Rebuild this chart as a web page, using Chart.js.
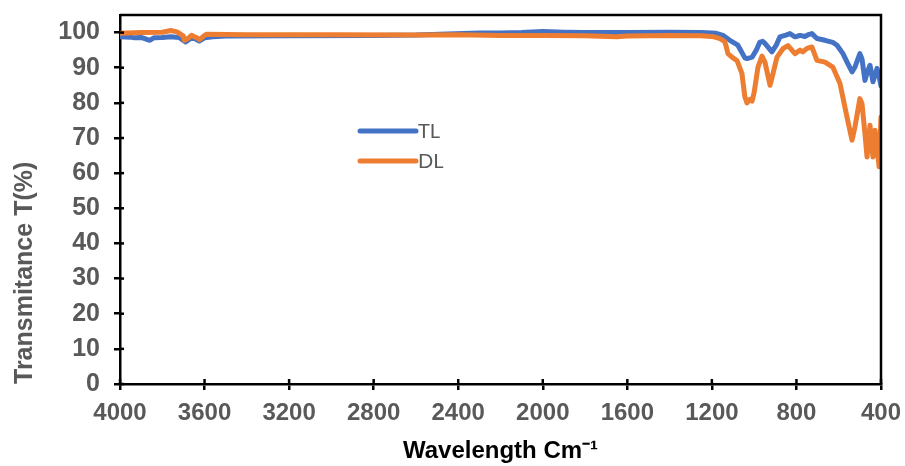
<!DOCTYPE html>
<html>
<head>
<meta charset="utf-8">
<script src="https://cdn.jsdelivr.net/npm/chart.js@4"></script>
<style>
  body { margin: 0; background: #fff; }
  canvas { display: block; }
</style>
</head>
<body>
<canvas id="grafico" width="905" height="466"></canvas>
<script>
// Dados (número de onda em cm-1, transmitância em %)
const tlWave = [4000, 3950, 3930, 3900, 3860, 3840, 3800, 3760, 3720, 3690, 3670, 3650, 3625, 3600, 3560, 3500,
  3200, 2800, 2600, 2450, 2300, 2200, 2100, 2000, 1900, 1800, 1600, 1400, 1250, 1180, 1148, 1115, 1077, 1044,
  1034, 1010, 990, 973, 960, 949, 916, 895, 878, 850, 831, 807, 798, 783, 760, 740, 727, 703, 665, 628, 608,
  580, 560, 537, 523, 500, 490, 476, 466, 452, 438, 419, 409, 400];
const tlT = [98.8, 98.7, 98.5, 98.6, 97.8, 98.5, 98.6, 98.8, 98.6, 97.3, 98.2, 98.4, 97.6, 98.5, 98.8, 99.0,
  99.1, 99.2, 99.3, 99.6, 99.9, 99.9, 100.0, 100.3, 100.1, 100.0, 100.0, 100.1, 100.0, 99.8, 99.2, 97.8, 96.4, 92.8,
  92.6, 93.0, 95.0, 97.3, 97.5, 96.9, 94.5, 96.5, 98.8, 99.3, 99.7, 98.8, 98.9, 99.2, 98.9, 99.5, 99.7, 98.3, 97.8, 97.2, 96.4,
  94.0, 91.5, 88.8, 90.2, 94.0, 92.5, 86.4, 88.5, 90.7, 86.0, 89.8, 87.5, 84.8];

const dlWave = [4000, 3900, 3800, 3760, 3730, 3700, 3695, 3675, 3662, 3640, 3624, 3600, 3590, 3400, 3000, 2600,
  2400, 2200, 2000, 1800, 1650, 1600, 1400, 1250, 1190, 1162, 1140, 1134, 1124, 1105, 1081, 1058, 1044, 1034,
  1020, 1010, 1000, 982, 963, 949, 925, 911, 892, 864, 840, 807, 783, 770, 750, 727, 703, 665, 628, 594, 561,
  537, 523, 500, 490, 476, 466, 452, 438, 428, 409, 400];
const dlT = [99.8, 100.0, 100.1, 100.6, 100.2, 99.0, 97.8, 98.5, 99.2, 98.6, 98.0, 99.2, 99.5, 99.4, 99.4, 99.3,
  99.4, 99.2, 99.2, 99.1, 98.8, 99.0, 99.2, 99.1, 98.8, 98.3, 97.5, 96.4, 94.0, 93.0, 92.0, 88.4, 81.7, 80.0,
  81.0, 80.5, 83.0, 90.2, 93.3, 91.6, 85.0, 88.3, 93.0, 95.4, 96.3, 94.0, 95.0, 94.5, 95.5, 95.9, 92.1, 91.6, 90.2, 85.5, 76.0,
  69.4, 73.2, 81.2, 79.8, 71.3, 64.6, 73.6, 64.6, 72.2, 61.8, 76.0];

const nomes = ['TL', 'DL'];
const cores = ['#4472C4', '#ED7D31'];
const yTicks = [0, 10, 20, 30, 40, 50, 60, 70, 80, 90, 100];

function pontos(xs, ys) {
  return xs.map((x, i) => ({ x: x, y: ys[i] }));
}

// Moldura do gráfico, marcas cruzando os eixos e legenda interna
const molduraPlugin = {
  id: 'moldura',
  afterDraw(chart) {
    const ctx = chart.ctx;
    const a = chart.chartArea;
    ctx.save();
    ctx.strokeStyle = '#000';
    ctx.lineWidth = 2.5;
    ctx.beginPath();
    ctx.moveTo(a.left, a.top);
    ctx.lineTo(a.right, a.top);
    ctx.lineTo(a.right, a.bottom);
    ctx.stroke();

    // parte interna das marcas
    chart.scales.x.ticks.forEach(t => {
      const px = chart.scales.x.getPixelForValue(t.value);
      ctx.beginPath();
      ctx.moveTo(px, a.bottom);
      ctx.lineTo(px, a.bottom - 5);
      ctx.stroke();
    });
    chart.scales.y.ticks.forEach(t => {
      const py = chart.scales.y.getPixelForValue(t.value);
      ctx.beginPath();
      ctx.moveTo(a.left, py);
      ctx.lineTo(a.left + 4, py);
      ctx.stroke();
    });

    // legenda
    const lx = a.left + 240;
    let ly = a.top + 116;
    chart.data.datasets.forEach(ds => {
      ctx.strokeStyle = ds.borderColor;
      ctx.lineWidth = 5;
      ctx.lineCap = 'round';
      ctx.beginPath();
      ctx.moveTo(lx, ly);
      ctx.lineTo(lx + 56, ly);
      ctx.stroke();
      ctx.fillStyle = '#595959';
      ctx.font = '20px Lato';
      ctx.textBaseline = 'middle';
      ctx.fillText(ds.label, lx + 58, ly + 1);
      ly += 30;
    });
    ctx.restore();
  }
};

const ctx = document.getElementById('grafico').getContext('2d');
new Chart(ctx, {
  type: 'line',
  data: {
    datasets: [
      {
        label: nomes[0],
        data: pontos(tlWave, tlT),
        borderColor: cores[0],
        backgroundColor: cores[0],
        borderWidth: 5,
        pointRadius: 0,
        tension: 0,
        borderJoinStyle: 'round',
        borderCapStyle: 'round',
        order: 2
      },
      {
        label: nomes[1],
        data: pontos(dlWave, dlT),
        borderColor: cores[1],
        backgroundColor: cores[1],
        borderWidth: 5,
        pointRadius: 0,
        tension: 0,
        borderJoinStyle: 'round',
        borderCapStyle: 'round',
        order: 1
      }
    ]
  },
  options: {
    responsive: false,
    animation: false,
    layout: { padding: { top: 15, right: 24, left: 0, bottom: 0 } },
    plugins: {
      legend: { display: false },
      tooltip: { enabled: false }
    },
    scales: {
      x: {
        type: 'linear',
        reverse: true,
        min: 400,
        max: 4000,
        afterFit: s => { s.height = 82; s.paddingLeft = 0; s.paddingRight = 0; },
        border: { display: true, color: '#000', width: 2.5 },
        grid: { drawOnChartArea: false, color: '#000', lineWidth: 2.5, tickLength: 6 },
        ticks: {
          stepSize: 400,
          color: '#595959',
          font: { family: 'Liberation Sans', size: 24, weight: 'bold' },
          padding: 9,
          maxRotation: 0,
          callback: v => String(v)
        },
        title: {
          display: true,
          text: 'Wavelength Cm⁻¹',
          color: '#000',
          font: { family: 'Liberation Sans', size: 24, weight: 'bold' },
          padding: { top: 0, bottom: 0 }
        }
      },
      y: {
        min: 0,
        max: 105,
        afterFit: s => { s.width = 120; s.paddingTop = 0; s.paddingBottom = 0; },
        afterBuildTicks: s => { s.ticks = yTicks.map(v => ({ value: v })); },
        border: { display: true, color: '#000', width: 2.5 },
        grid: { drawOnChartArea: false, color: '#000', lineWidth: 2.5, tickLength: 6 },
        ticks: {
          color: '#595959',
          font: { family: 'Liberation Sans', size: 25, weight: 'bold' },
          padding: 14
        },
        title: {
          display: true,
          text: 'Transmitance T(%)',
          align: 'start',
          color: '#595959',
          font: { family: 'Liberation Sans', size: 25, weight: 'bold' },
          padding: { top: 10, bottom: 0 }
        }
      }
    }
  },
  plugins: [molduraPlugin]
});
</script>
</body>
</html>
